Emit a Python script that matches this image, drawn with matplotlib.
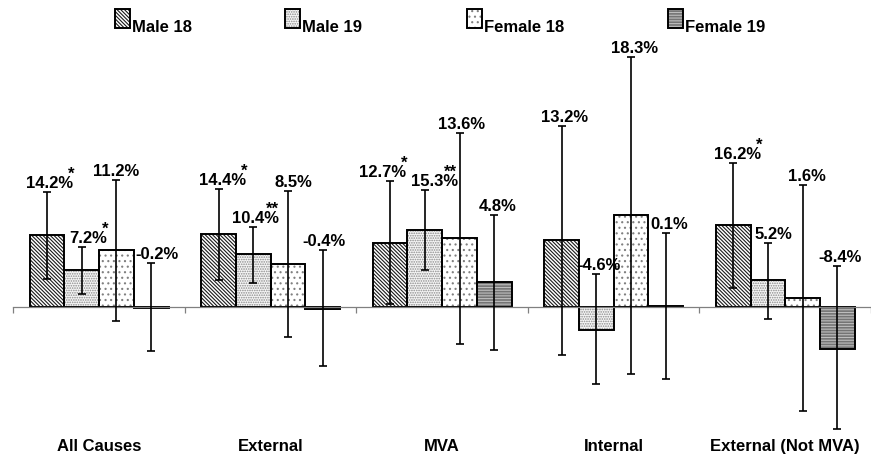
import numpy as np
import matplotlib
matplotlib.use('Agg')
import matplotlib.pyplot as plt
from matplotlib.patches import Rectangle
from matplotlib.transforms import IdentityTransform

plt.rcParams['font.family'] = ['Liberation Sans', 'DejaVu Sans']
plt.rcParams['hatch.linewidth'] = 0.8

# ---------------- data ----------------
categories = ['All Causes', 'External', 'MVA', 'Internal', 'External (Not MVA)']
series_names = ['Male 18', 'Male 19', 'Female 18', 'Female 19']

male18 = [14.2, 14.4, 12.7, 13.2, 16.2]
male19 = [7.2, 10.4, 15.3, -4.6, 5.2]
female18 = [11.2, 8.5, 13.6, 18.3, 1.6]
female19 = [-0.2, -0.4, 4.8, 0.1, -8.4]

male18_lo = [5.4, 5.2, 0.4, -9.6, 3.7]
male18_hi = [22.8, 23.4, 25.0, 35.9, 28.5]
male19_lo = [2.5, 4.6, 7.2, -15.4, -2.4]
male19_hi = [11.9, 15.9, 23.2, 6.4, 12.7]
female18_lo = [-2.8, -6.1, -7.4, -13.5, -20.9]
female18_hi = [25.2, 23.1, 34.5, 49.7, 24.2]
female19_lo = [-8.8, -11.8, -8.6, -14.4, -24.5]
female19_hi = [8.6, 11.2, 18.2, 14.7, 8.0]

male18_sig = ['*', '*', '*', '', '*']
male19_sig = ['*', '**', '**', '', '']
female18_sig = ['', '', '', '', '']
female19_sig = ['', '', '', '', '']

values = [male18, male19, female18, female19]
lows = [male18_lo, male19_lo, female18_lo, female19_lo]
highs = [male18_hi, male19_hi, female18_hi, female19_hi]
sigs = [male18_sig, male19_sig, female18_sig, female19_sig]

# ---------------- styles / layout ----------------
faces = ['white', '#f6f6f6', 'white', '#747474']
hatches = ['\\' * 9, '.' * 7, '...', '-' * 6]
hatch_colors = ['#1a1a1a', '#8a8a8a', '#808080', '#bdbdbd']
# horizontal nudges of value labels (pixels), per series x category
label_dx = [[2.5, 3.5, -8, 2.5, 4.5],
            [6.5, 2.5, 9.5, 3, 6],
            [-0.5, 5.5, 2.5, 3, 4.5],
            [5.5, 1.5, 3, 3.5, 3]]
legend_x = [115, 285, 467, 668]

W, H = 871, 455
PX_PER_PCT = 5.02
ZERO_Y = 306.5
CENTER0 = 100.0
SPACING = 173.0

fig = plt.figure(figsize=(W / 100, H / 100), dpi=100)
ax = fig.add_axes([0, 0, 1, 1])
ax.set_ylim(-(H - ZERO_Y) / PX_PER_PCT, ZERO_Y / PX_PER_PCT)
ax.set_xlim(-CENTER0 / SPACING, (W - CENTER0) / SPACING)
bw = 35.0 / SPACING
idx = np.arange(len(categories))

for sp in ['top', 'right', 'left']:
    ax.spines[sp].set_visible(False)
ax.spines['bottom'].set_position(('data', 0))
ax.spines['bottom'].set_color('#808080')
ax.spines['bottom'].set_linewidth(0.9)
ax.spines['bottom'].set_bounds(-0.5, 4.7)
ax.set_yticks([])
ax.set_xticks(np.arange(len(categories) + 1) - 0.5)
ax.set_xticklabels([])
ax.tick_params(axis='x', direction='out', length=4.5, color='#808080', width=0.9)

annots = []
for s in range(4):
    x = idx + (s - 1.5) * bw
    v = np.array(values[s])
    lo = np.array(lows[s])
    hi = np.array(highs[s])
    # fill + hatch layer (hatch drawn in its own colour)
    ax.bar(x, v, width=bw, color=faces[s], edgecolor=hatch_colors[s],
           linewidth=0, hatch=hatches[s], zorder=2)
    # outline layer
    ax.bar(x, v, width=bw, fill=False, edgecolor='black', linewidth=1.4, zorder=2.5)
    ax.errorbar(x, v, yerr=[v - lo, hi - v], fmt='none', ecolor='black',
                elinewidth=1.2, capsize=2.6, capthick=1.2, zorder=3)
    for i in range(len(categories)):
        t = ax.annotate(f'{v[i]:.1f}%', xy=(x[i], hi[i]),
                        xytext=(label_dx[s][i] * 0.72, 4 * 0.72),
                        textcoords='offset points', ha='center', va='baseline',
                        fontsize=12, fontweight='bold', zorder=4)
        annots.append((t, x[i], hi[i], sigs[s][i]))

# category labels
for i, c in enumerate(categories):
    ax.text(i, (H - 451) / H, c, transform=ax.get_xaxis_transform(),
            ha='center', va='baseline', fontsize=12, fontweight='bold')

# significance asterisks
fig.canvas.draw()
r = fig.canvas.get_renderer()
for t, xv, yv, sg in annots:
    if not sg:
        continue
    bb = t.get_window_extent(r)
    base = ax.transData.transform((xv, yv))[1] + 4
    xc = bb.x1 - 2 - 5 * (len(sg) - 1)
    fig.text(xc / W, (base + 9.3) / H, sg, ha='center', va='baseline',
             fontsize=12, fontweight='bold')

# legend (manual)
for s in range(4):
    x0 = legend_x[s]
    fig.add_artist(Rectangle((x0, H - 28), 15, 19, facecolor=faces[s],
                             edgecolor=hatch_colors[s], linewidth=0,
                             hatch=hatches[s], transform=IdentityTransform()))
    fig.add_artist(Rectangle((x0, H - 28), 15, 19, fill=False, edgecolor='black',
                             linewidth=1.4, transform=IdentityTransform()))
    fig.text((x0 + 17) / W, (H - 32) / H, series_names[s], ha='left',
             va='baseline', fontsize=12, fontweight='bold')

fig.savefig('out.png', dpi=100)
